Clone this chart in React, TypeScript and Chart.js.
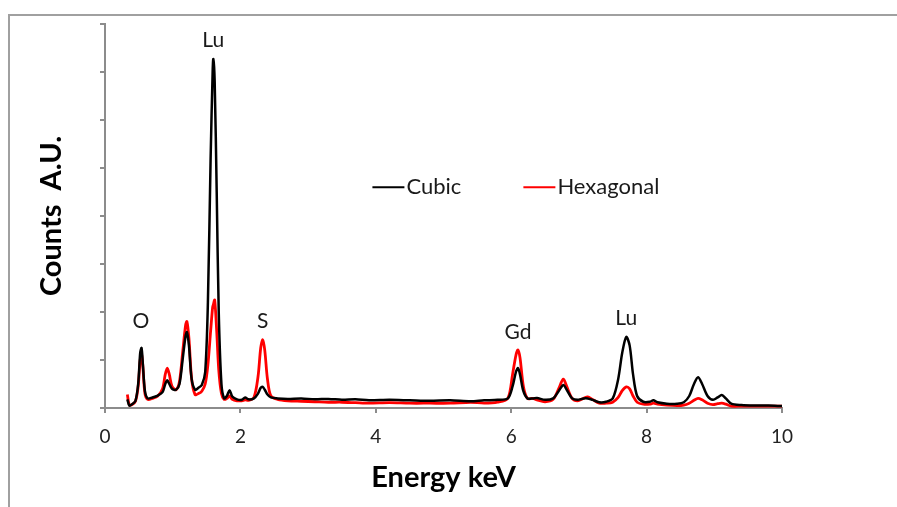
import React, { useEffect, useRef } from "react";
import { Chart, registerables } from "chart.js";

Chart.register(...registerables);

const energyKeV = [
  0.33, 0.36, 0.4, 0.45, 0.49, 0.52, 0.54, 0.56, 0.59, 0.63, 0.7, 0.78, 0.85, 0.89, 0.92, 0.95, 0.99,
  1.05, 1.1, 1.15, 1.19, 1.21, 1.24, 1.28, 1.33, 1.38, 1.43, 1.48, 1.52, 1.56, 1.59, 1.6, 1.62, 1.65,
  1.68, 1.72, 1.76, 1.8, 1.84, 1.88, 1.95, 2.02, 2.07, 2.12, 2.2, 2.26, 2.3, 2.33, 2.36, 2.4, 2.45,
  2.55, 2.7, 2.9, 3.1, 3.3, 3.5, 3.7, 3.9, 4.2, 4.5, 4.8, 5.1, 5.4, 5.6, 5.8, 5.95, 6.02, 6.07, 6.1,
  6.13, 6.18, 6.24, 6.32, 6.38, 6.5, 6.62, 6.7, 6.77, 6.82, 6.9, 6.98, 7.07, 7.13, 7.2, 7.3, 7.4,
  7.5, 7.58, 7.64, 7.7, 7.75, 7.8, 7.86, 7.95, 8.05, 8.1, 8.16, 8.3, 8.45, 8.55, 8.63, 8.7, 8.76,
  8.82, 8.9, 8.98, 9.05, 9.11, 9.17, 9.25, 9.4, 9.6, 9.8, 10.0,
];

const cubicCounts = [
  0.18, 0.05, 0.08, 0.15, 0.5, 1.15, 1.25, 0.9, 0.35, 0.2, 0.22, 0.26, 0.33, 0.5, 0.58, 0.5, 0.4,
  0.38, 0.5, 1.05, 1.5, 1.58, 1.3, 0.6, 0.38, 0.42, 0.48, 0.75, 2.2, 5.2, 7.0, 7.27, 6.8, 4.5,
  2.0, 0.5, 0.2, 0.25, 0.37, 0.24, 0.18, 0.17, 0.22, 0.18, 0.2, 0.3, 0.42, 0.44, 0.38, 0.28, 0.22,
  0.2, 0.19, 0.2, 0.18, 0.19, 0.17, 0.18, 0.16, 0.17, 0.16, 0.15, 0.16, 0.14, 0.16, 0.17, 0.2, 0.45, 0.75, 0.83,
  0.7, 0.35, 0.2, 0.2, 0.21, 0.17, 0.2, 0.35, 0.48, 0.38, 0.2, 0.17, 0.2, 0.2, 0.17, 0.12, 0.13,
  0.2, 0.6, 1.15, 1.48, 1.3, 0.7, 0.25, 0.13, 0.13, 0.16, 0.12, 0.09, 0.09, 0.12, 0.25, 0.5, 0.64,
  0.5, 0.25, 0.17, 0.22, 0.27, 0.2, 0.09, 0.06, 0.05, 0.05, 0.04,
];

const hexagonalCounts = [
  0.28, 0.06, 0.07, 0.14, 0.45, 1.0, 1.12, 0.85, 0.3, 0.18, 0.2, 0.25, 0.4, 0.7, 0.83, 0.7, 0.45,
  0.38, 0.55, 1.2, 1.72, 1.8, 1.45, 0.6, 0.28, 0.3, 0.35, 0.5, 0.9, 1.6, 2.1, 2.15, 2.25, 1.6,
  0.8, 0.3, 0.18, 0.2, 0.25, 0.18, 0.15, 0.15, 0.17, 0.16, 0.22, 0.65, 1.25, 1.42, 1.2, 0.6, 0.25,
  0.18, 0.15, 0.14, 0.13, 0.12, 0.12, 0.11, 0.1, 0.11, 0.1, 0.1, 0.1, 0.12, 0.1, 0.12, 0.2, 0.7, 1.1, 1.21,
  1.05, 0.45, 0.2, 0.2, 0.17, 0.13, 0.18, 0.4, 0.6, 0.45, 0.2, 0.15, 0.2, 0.23, 0.18, 0.1, 0.1,
  0.12, 0.22, 0.36, 0.44, 0.4, 0.25, 0.12, 0.08, 0.08, 0.1, 0.08, 0.06, 0.05, 0.06, 0.1, 0.16, 0.2,
  0.17, 0.1, 0.07, 0.09, 0.1, 0.08, 0.04, 0.04, 0.04, 0.04, 0.04,
];

const peakLabels = ["O", "Lu", "S", "Gd", "Lu"];
const peakLabelEnergy = [0.53, 1.6, 2.33, 6.1, 7.7];
const peakLabelCounts = [1.8, 7.67, 1.8, 1.57, 1.88];

const seriesNames = ["Cubic", "Hexagonal"];
const seriesColors = ["#000000", "#ff0000"];

const FONT = "Lato, 'Open Sans', sans-serif";

const annotationPlugin = {
  id: "peakAnnotations",
  afterDatasetsDraw(chart: any) {
    const ctx = chart.ctx;
    const xs = chart.scales.x;
    const ys = chart.scales.y;
    ctx.save();
    ctx.fillStyle = "#1a1a1a";
    ctx.font = `21px ${FONT}`;
    ctx.textAlign = "center";
    ctx.textBaseline = "middle";
    peakLabels.forEach((t, i) => {
      ctx.fillText(t, xs.getPixelForValue(peakLabelEnergy[i]), ys.getPixelForValue(peakLabelCounts[i]));
    });
    // legend
    const legendY = ys.getPixelForValue(4.6);
    const starts = [xs.getPixelForValue(3.95), xs.getPixelForValue(6.18)];
    ctx.textAlign = "left";
    ctx.font = `22px ${FONT}`;
    seriesNames.forEach((name, i) => {
      const x0 = starts[i];
      ctx.strokeStyle = seriesColors[i];
      ctx.lineWidth = 2;
      ctx.beginPath();
      ctx.moveTo(x0, legendY);
      ctx.lineTo(x0 + 32, legendY);
      ctx.stroke();
      ctx.fillStyle = "#1a1a1a";
      ctx.fillText(name, x0 + 34, legendY);
    });
    ctx.restore();
  },
};

export default function App() {
  const canvasRef = useRef<HTMLCanvasElement | null>(null);

  useEffect(() => {
    const canvas = canvasRef.current;
    if (!canvas) return;
    const makeData = (vals: number[]) => energyKeV.map((e, i) => ({ x: e, y: vals[i] }));
    const chart = new Chart(canvas, {
      type: "line",
      data: {
        datasets: [
          {
            label: seriesNames[0],
            data: makeData(cubicCounts),
            borderColor: seriesColors[0],
            borderWidth: 2.5,
            pointRadius: 0,
            tension: 0.3,
            fill: false,
          },
          {
            label: seriesNames[1],
            data: makeData(hexagonalCounts),
            borderColor: seriesColors[1],
            borderWidth: 2.8,
            pointRadius: 0,
            tension: 0.3,
            fill: false,
          },
        ],
      },
      options: {
        animation: false,
        responsive: false,
        devicePixelRatio: 1,
        layout: { padding: { left: 0, top: 24, right: 115, bottom: 0 } },
        plugins: { legend: { display: false }, tooltip: { enabled: false } },
        scales: {
          x: {
            type: "linear",
            min: 0,
            max: 10,
            ticks: { stepSize: 2, color: "#222", font: { family: FONT, size: 19 }, padding: 12, maxRotation: 0 },
            grid: { drawOnChartArea: false, drawTicks: true, tickLength: 5, color: "#8c8c8c", lineWidth: 2 },
            border: { color: "#8c8c8c", width: 2 },
            title: {
              display: true,
              text: "Energy keV",
              color: "#000",
              font: { family: FONT, size: 29, weight: "bold" },
              padding: { top: 0, bottom: 12 },
            },
            afterFit: (s: any) => {
              s.height = 99;
            },
          },
          y: {
            type: "linear",
            min: 0,
            max: 8,
            ticks: { stepSize: 1, callback: () => "", padding: 0 },
            grid: { drawOnChartArea: false, drawTicks: true, tickLength: 5, color: "#8c8c8c", lineWidth: 2 },
            border: { color: "#8c8c8c", width: 2 },
            title: {
              display: true,
              text: "Counts  A.U.",
              color: "#000",
              font: { family: FONT, size: 29, weight: "bold" },
              padding: { top: 34, bottom: 0 },
            },
            afterFit: (s: any) => {
              s.width = 105;
            },
          },
        },
      },
      plugins: [annotationPlugin],
    });
    return () => chart.destroy();
  }, []);

  return (
    <div style={{ position: "fixed", left: 0, top: 0, width: 897, height: 507, background: "#fff" }}>
      <div
        style={{
          position: "absolute",
          left: 8,
          top: 14,
          width: 900,
          height: 500,
          borderLeft: "2px solid #a0a0a0",
          borderTop: "2px solid #a0a0a0",
        }}
      />
      <canvas ref={canvasRef} width={897} height={507} style={{ position: "absolute", left: 0, top: 0 }} />
    </div>
  );
}
